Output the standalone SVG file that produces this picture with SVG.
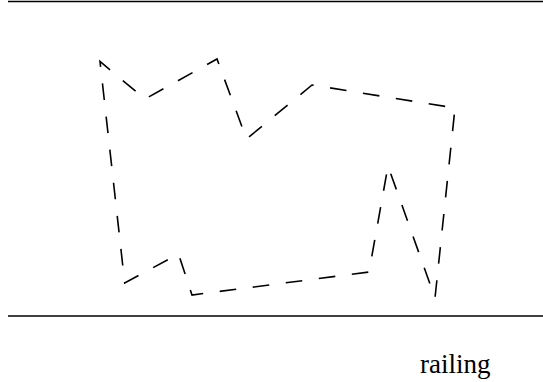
<svg xmlns="http://www.w3.org/2000/svg" width="543" height="382" viewBox="0 0 543 382">
<style>
.rail{stroke:#000;stroke-width:1.3;fill:none}
.outline{stroke:#000;stroke-width:1.6;fill:none;stroke-dasharray:16.65 16.65;stroke-dashoffset:3.6;stroke-linejoin:miter}
.lbl{font-family:"Liberation Serif","DejaVu Serif",serif;font-size:27px;fill:#000}
</style>
<rect width="543" height="382" fill="#fff"/>
<g id="railing-top"><line class="rail" x1="8" y1="1.5" x2="543" y2="1.5"/></g>
<g id="railing-bottom"><line class="rail" x1="8" y1="316" x2="543" y2="316"/></g>
<g id="connectors">
<path id="shape" class="outline" d="M100,61.5 L145,99 L217,59 L246.5,139 L312,85 L455,108 L435,298 L388,166 L369,272 L192,295 L178.5,254 L124.7,283 Z"/>
</g>
<g id="label"><text class="lbl" x="420" y="373">railing</text></g>
</svg>
